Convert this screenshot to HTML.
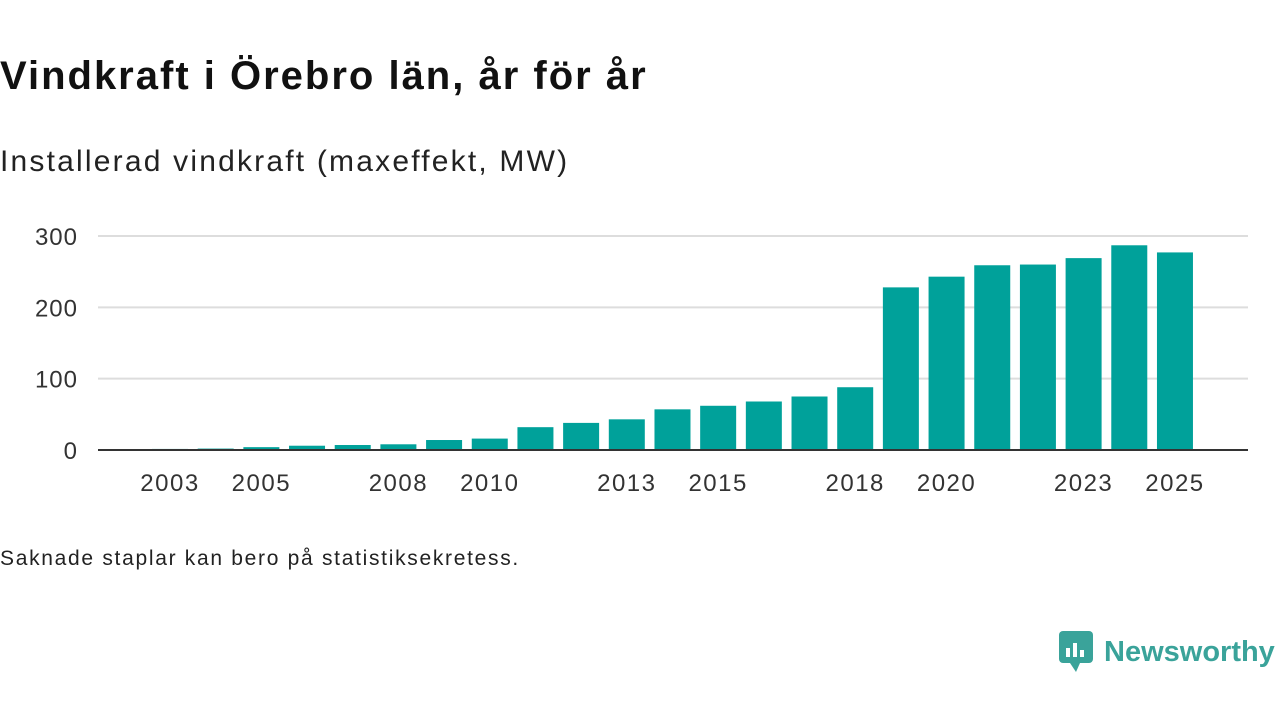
<!DOCTYPE html>
<html><head><meta charset="utf-8">
<style>
body{margin:0;background:#fff;width:1280px;height:720px;overflow:hidden;font-family:"Liberation Sans","DejaVu Sans",sans-serif;color:#111}
.t{position:absolute;left:0;top:54px;font-size:40px;font-weight:bold;color:#111;letter-spacing:2px}
.s{position:absolute;left:0;top:145px;font-size:30px;color:#222;letter-spacing:2.2px}
.n{position:absolute;left:0;top:547px;font-size:21px;color:#222;letter-spacing:1.7px}
</style></head><body>
<div class="t">Vindkraft i Örebro län, år för år</div>
<div class="s">Installerad vindkraft (maxeffekt, MW)</div>
<div class="n">Saknade staplar kan bero på statistiksekretess.</div>
<svg id="c" width="1280" height="720" style="position:absolute;left:0;top:0"></svg>
<div style="position:absolute;left:1058px;top:630px;display:flex;align-items:center">
<svg width="38" height="44" viewBox="0 0 38 44"><rect x="1" y="1" width="34" height="32" rx="4" fill="#3aa39a"/><path d="M12 33 L18 42 L22 33Z" fill="#3aa39a"/><rect x="8" y="18" width="4" height="9" fill="#fff"/><rect x="15" y="13" width="4" height="14" fill="#fff"/><rect x="22" y="20" width="4" height="7" fill="#fff"/></svg>
<span style="font-size:29px;font-weight:bold;color:#3aa39a;margin-left:8px">Newsworthy</span></div>
<script>
const years=[2003,2004,2005,2006,2007,2008,2009,2010,2011,2012,2013,2014,2015,2016,2017,2018,2019,2020,2021,2022,2023,2024,2025];
const values=[1.5,2,4,6,7,8,14,16,32,38,43,57,62,68,75,88,228,243,259,260,269,287,277];
const yTicks=[0,100,200,300];
const xLabels=[2003,2005,2008,2010,2013,2015,2018,2020,2023,2025];
const NS='http://www.w3.org/2000/svg',svg=document.getElementById('c');
const x=y=>170+(y-2003)*45.68, yS=v=>450-v*0.7133;
function el(t,a){const e=document.createElementNS(NS,t);for(const k in a)e.setAttribute(k,a[k]);svg.appendChild(e);return e;}
yTicks.forEach(v=>{
 if(v>0){const g=el('line',{x1:98,x2:1248,y1:yS(v),y2:yS(v),stroke:'#ddd','stroke-width':2});
 
 }
 const t=el('text',{x:78,y:yS(v)+9,'text-anchor':'end','font-size':24,fill:'#333','letter-spacing':1});t.textContent=v;
 
 
});
years.forEach((yr,i)=>{
 const r=el('rect',{x:x(yr)-18,y:yS(values[i]),width:36,height:450-yS(values[i]),fill:'#00a19a'});
 
 
});
const ax=el('line',{x1:98,x2:1248,y1:450,y2:450,stroke:'#333','stroke-width':2});


xLabels.forEach(yr=>{
 const t=el('text',{x:x(yr),y:491,'text-anchor':'middle','font-size':24,fill:'#333','letter-spacing':1.5});t.textContent=yr;
 
 
});
</script>
</body></html>
